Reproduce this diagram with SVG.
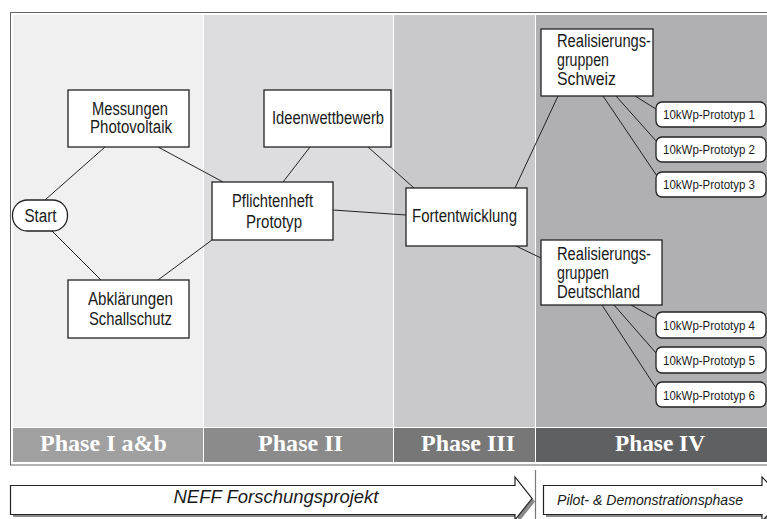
<svg xmlns="http://www.w3.org/2000/svg" width="767" height="519" viewBox="0 0 767 519">
<style>
.node{fill:#fff;stroke:#222;stroke-width:1.3}
.t{font-family:"Liberation Sans",Arial,sans-serif;font-size:18px;fill:#1a1a1a}
.ts{font-family:"Liberation Sans",Arial,sans-serif;font-size:12.5px;fill:#1a1a1a}
.ph{font-family:"Liberation Serif","Times New Roman",serif;font-size:23px;font-weight:bold;fill:#fff;text-anchor:middle}
.it{font-family:"Liberation Sans",Arial,sans-serif;font-style:italic;fill:#1a1a1a}
.c{stroke:#222;stroke-width:1;fill:none}
.mid{text-anchor:middle}
</style>
<rect width="767" height="519" fill="#fff"/>
<g id="frame">
<rect x="10.5" y="12.5" width="770" height="452.5" fill="#fff" stroke="#666" stroke-width="1"/>
<rect x="13" y="15" width="190" height="412" fill="#f0f0f0"/>
<rect x="204" y="15" width="189" height="412" fill="#dddddf"/>
<rect x="394" y="15" width="141" height="412" fill="#c9c9cb"/>
<rect x="536" y="15" width="231" height="412" fill="#b0b0b3"/>
<rect x="13" y="428" width="190" height="34" fill="#a0a0a0"/>
<rect x="204" y="428" width="189" height="34" fill="#8b8b8c"/>
<rect x="394" y="428" width="141" height="34" fill="#777778"/>
<rect x="536" y="428" width="231" height="34" fill="#5f6062"/>
<text class="ph" x="103.5" y="451" textLength="127" lengthAdjust="spacingAndGlyphs">Phase I a&amp;b</text>
<text class="ph" x="300.5" y="451" textLength="85" lengthAdjust="spacingAndGlyphs">Phase II</text>
<text class="ph" x="468" y="451" textLength="94" lengthAdjust="spacingAndGlyphs">Phase III</text>
<text class="ph" x="660" y="451" textLength="90" lengthAdjust="spacingAndGlyphs">Phase IV</text>
</g>
<g id="connectors" class="c">
<line x1="45" y1="200" x2="105" y2="147"/>
<line x1="158" y1="147" x2="223" y2="182"/>
<line x1="52" y1="231" x2="101" y2="280"/>
<line x1="158" y1="280" x2="212" y2="240"/>
<line x1="310" y1="147" x2="283" y2="182"/>
<line x1="368" y1="147" x2="414" y2="188"/>
<line x1="333" y1="210" x2="406" y2="215"/>
<line x1="515" y1="188" x2="558" y2="96"/>
<line x1="516" y1="246" x2="541" y2="258"/>
<line x1="635" y1="96" x2="656" y2="109"/>
<line x1="616" y1="96" x2="657" y2="142"/>
<line x1="603" y1="96" x2="657" y2="176"/>
<line x1="631" y1="305" x2="656" y2="319"/>
<line x1="614" y1="305" x2="656" y2="353"/>
<line x1="602" y1="305" x2="656" y2="388"/>
</g>
<g id="start">
<rect class="node" x="12.5" y="200" width="55" height="31" rx="15"/>
<text class="t mid" x="40.5" y="222" textLength="32" lengthAdjust="spacingAndGlyphs">Start</text>
</g>
<g id="messungen">
<rect class="node" x="68" y="90" width="121" height="57"/>
<text class="t mid" x="130" y="115" textLength="76" lengthAdjust="spacingAndGlyphs">Messungen</text>
<text class="t mid" x="131" y="133" textLength="82" lengthAdjust="spacingAndGlyphs">Photovoltaik</text>
</g>
<g id="abklaerungen">
<rect class="node" x="68" y="280" width="121" height="58"/>
<text class="t mid" x="130.5" y="305" textLength="85" lengthAdjust="spacingAndGlyphs">Abklärungen</text>
<text class="t mid" x="130.5" y="325" textLength="83" lengthAdjust="spacingAndGlyphs">Schallschutz</text>
</g>
<g id="ideenwettbewerb">
<rect class="node" x="264" y="90" width="127" height="57"/>
<text class="t mid" x="328" y="124" textLength="112" lengthAdjust="spacingAndGlyphs">Ideenwettbewerb</text>
</g>
<g id="pflichtenheft">
<rect class="node" x="212" y="182" width="121" height="58"/>
<text class="t mid" x="272.5" y="207" textLength="81" lengthAdjust="spacingAndGlyphs">Pflichtenheft</text>
<text class="t mid" x="274" y="228" textLength="56" lengthAdjust="spacingAndGlyphs">Prototyp</text>
</g>
<g id="fortentwicklung">
<rect class="node" x="406" y="188" width="121" height="58"/>
<text class="t mid" x="464.5" y="222" textLength="105" lengthAdjust="spacingAndGlyphs">Fortentwicklung</text>
</g>
<g id="schweiz">
<rect class="node" x="541" y="29" width="112" height="67"/>
<text class="t" x="557" y="47" textLength="94" lengthAdjust="spacingAndGlyphs">Realisierungs-</text>
<text class="t" x="557" y="66" textLength="52" lengthAdjust="spacingAndGlyphs">gruppen</text>
<text class="t" x="557" y="85" textLength="59" lengthAdjust="spacingAndGlyphs">Schweiz</text>
</g>
<g id="deutschland">
<rect class="node" x="541" y="240" width="121" height="65"/>
<text class="t" x="557" y="260" textLength="94" lengthAdjust="spacingAndGlyphs">Realisierungs-</text>
<text class="t" x="557" y="279" textLength="52" lengthAdjust="spacingAndGlyphs">gruppen</text>
<text class="t" x="557" y="298" textLength="83" lengthAdjust="spacingAndGlyphs">Deutschland</text>
</g>
<g id="p1"><rect class="node" x="656" y="102" width="110" height="25" rx="6"/><text class="ts" x="663" y="119" textLength="92" lengthAdjust="spacingAndGlyphs">10kWp-Prototyp 1</text></g>
<g id="p2"><rect class="node" x="656" y="137" width="110" height="25" rx="6"/><text class="ts" x="663" y="154" textLength="92" lengthAdjust="spacingAndGlyphs">10kWp-Prototyp 2</text></g>
<g id="p3"><rect class="node" x="656" y="172" width="110" height="25" rx="6"/><text class="ts" x="663" y="189" textLength="92" lengthAdjust="spacingAndGlyphs">10kWp-Prototyp 3</text></g>
<g id="p4"><rect class="node" x="656" y="312" width="110" height="26" rx="6"/><text class="ts" x="663" y="330" textLength="92" lengthAdjust="spacingAndGlyphs">10kWp-Prototyp 4</text></g>
<g id="p5"><rect class="node" x="656" y="347" width="110" height="26" rx="6"/><text class="ts" x="663" y="365" textLength="92" lengthAdjust="spacingAndGlyphs">10kWp-Prototyp 5</text></g>
<g id="p6"><rect class="node" x="656" y="382" width="110" height="25" rx="6"/><text class="ts" x="663" y="400" textLength="92" lengthAdjust="spacingAndGlyphs">10kWp-Prototyp 6</text></g>
<g id="timeline">
<line x1="535.5" y1="470" x2="535.5" y2="519" stroke="#777" stroke-width="1.2"/>
<g id="neff">
<path d="M13,488 H518 V480 L535,501.5 L518,523 V517 H13 Z" fill="#8a8a8a"/>
<path d="M10.5,485.5 H515 V477 L532,498.5 L515,520 V514.5 H10.5 Z" fill="#fff" stroke="#222" stroke-width="1.2"/>
<text class="it mid" x="276" y="503" font-size="18" textLength="205" lengthAdjust="spacingAndGlyphs">NEFF Forschungsprojekt</text>
</g>
<g id="pilot">
<path d="M546,488 H765 V480 L786,502 L765,524 V517 H546 Z" fill="#8a8a8a"/>
<path d="M543.5,485.5 H762 V477 L783,499 L762,521 V514.5 H543.5 Z" fill="#fff" stroke="#222" stroke-width="1.2"/>
<text class="it" x="557" y="505" font-size="14.5" textLength="186" lengthAdjust="spacingAndGlyphs">Pilot- &amp; Demonstrationsphase</text>
</g>
</g>
</svg>
